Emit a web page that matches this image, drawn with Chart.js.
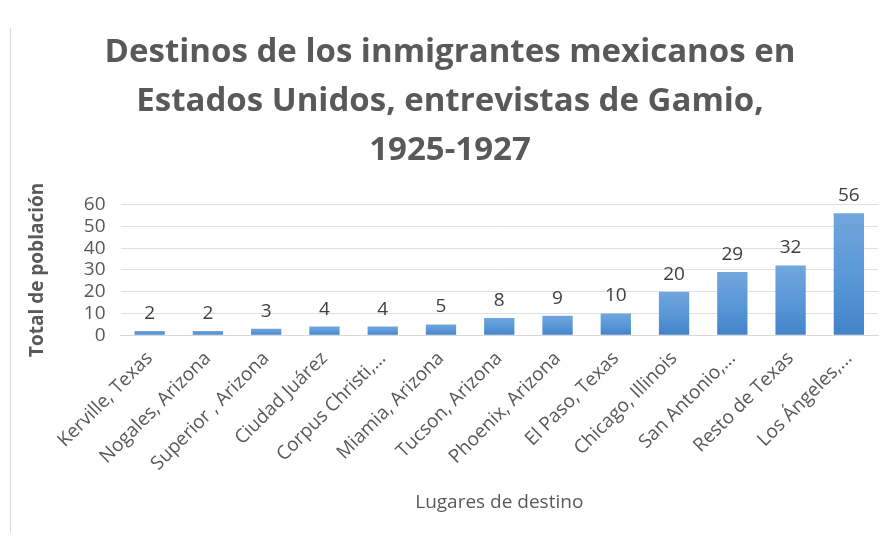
<html lang="es">
<head>
    <meta charset="UTF-8">
    <title>Destinos de los inmigrantes mexicanos</title>
    <script src="https://cdn.jsdelivr.net/npm/chart.js"></script>
    <style>
        body { margin: 0; background: #fff; }
        #marco { position: absolute; left: 10px; top: 28px; width: 1px; height: 505px; background: #d9d9d9; }
    </style>
</head>
<body>
    <div id="marco"></div>
    <canvas id="grafica" width="892" height="539"></canvas>

    <script>
        // Datos
        const lugares = ['Kerville, Texas', 'Nogales, Arizona', 'Superior , Arizona', 'Ciudad Juárez',
            'Corpus Christi,...', 'Miamia, Arizona', 'Tucson, Arizona', 'Phoenix, Arizona',
            'El Paso, Texas', 'Chicago, Illinois', 'San Antonio,...', 'Resto de Texas', 'Los Ángeles,...'];
        const poblacion = [2, 2, 3, 4, 4, 5, 8, 9, 10, 20, 29, 32, 56];
        const titulo = ['Destinos de los inmigrantes mexicanos en', 'Estados Unidos, entrevistas de Gamio,', '1925-1927'];

        const gris = '#595959';
        const fuente = "'Open Sans', 'Liberation Sans', sans-serif";

        // Etiquetas de valor sobre cada barra
        const etiquetas = {
            id: 'etiquetas',
            afterDatasetsDraw(chart) {
                const ctx = chart.ctx;
                const meta = chart.getDatasetMeta(0);
                ctx.save();
                ctx.font = '19px ' + fuente;
                ctx.fillStyle = '#404040';
                ctx.textAlign = 'center';
                ctx.textBaseline = 'bottom';
                meta.data.forEach((barra, i) => {
                    ctx.fillText(poblacion[i], barra.x, barra.y - 8);
                });
                ctx.restore();
            }
        };

        // Degradado vertical por barra
        function colorBarra(context) {
            const chart = context.chart;
            const y = chart.scales.y;
            if (!y || context.raw === undefined) return '#5b9bd5';
            const arriba = y.getPixelForValue(context.raw);
            const abajo = y.getPixelForValue(0);
            if (!isFinite(arriba) || abajo - arriba < 1) return '#5b9bd5';
            const g = chart.ctx.createLinearGradient(0, arriba, 0, abajo);
            g.addColorStop(0, '#72a6dd');
            g.addColorStop(0.5, '#5a98d8');
            g.addColorStop(1, '#4283c8');
            return g;
        }

        const ctx = document.getElementById('grafica').getContext('2d');
        new Chart(ctx, {
            type: 'bar',
            data: {
                labels: lugares,
                datasets: [{
                    data: poblacion,
                    backgroundColor: colorBarra,
                    categoryPercentage: 1,
                    barPercentage: 0.52
                }]
            },
            plugins: [etiquetas],
            options: {
                responsive: false,
                animation: false,
                layout: { padding: { left: 22, right: 14, top: 20, bottom: 21 } },
                plugins: {
                    legend: { display: false },
                    tooltip: { enabled: false },
                    title: {
                        display: true,
                        text: titulo,
                        color: gris,
                        font: { family: fuente, size: 33, weight: 'bold', lineHeight: 1.48 },
                        padding: { top: 8, bottom: 30 }
                    }
                },
                scales: {
                    x: {
                        grid: { display: false, drawTicks: false },
                        border: { color: '#d9d9d9', width: 1 },
                        ticks: {
                            color: gris,
                            font: { family: fuente, size: 19 },
                            maxRotation: 45,
                            minRotation: 45,
                            autoSkip: false,
                            padding: 12
                        },
                        title: {
                            display: true,
                            text: 'Lugares de destino',
                            color: gris,
                            font: { family: fuente, size: 19 },
                            padding: { top: 4 }
                        }
                    },
                    y: {
                        min: 0,
                        max: 60,
                        grid: { color: '#e0e0e0', drawTicks: false },
                        border: { display: false },
                        ticks: {
                            stepSize: 10,
                            autoSkip: false,
                            color: gris,
                            font: { family: fuente, size: 19, lineHeight: 1 },
                            padding: 15
                        },
                        title: {
                            display: true,
                            text: 'Total de población',
                            color: gris,
                            font: { family: fuente, size: 19, weight: 'bold' },
                            padding: { bottom: 20 }
                        }
                    }
                }
            }
        });
    </script>
</body>
</html>
